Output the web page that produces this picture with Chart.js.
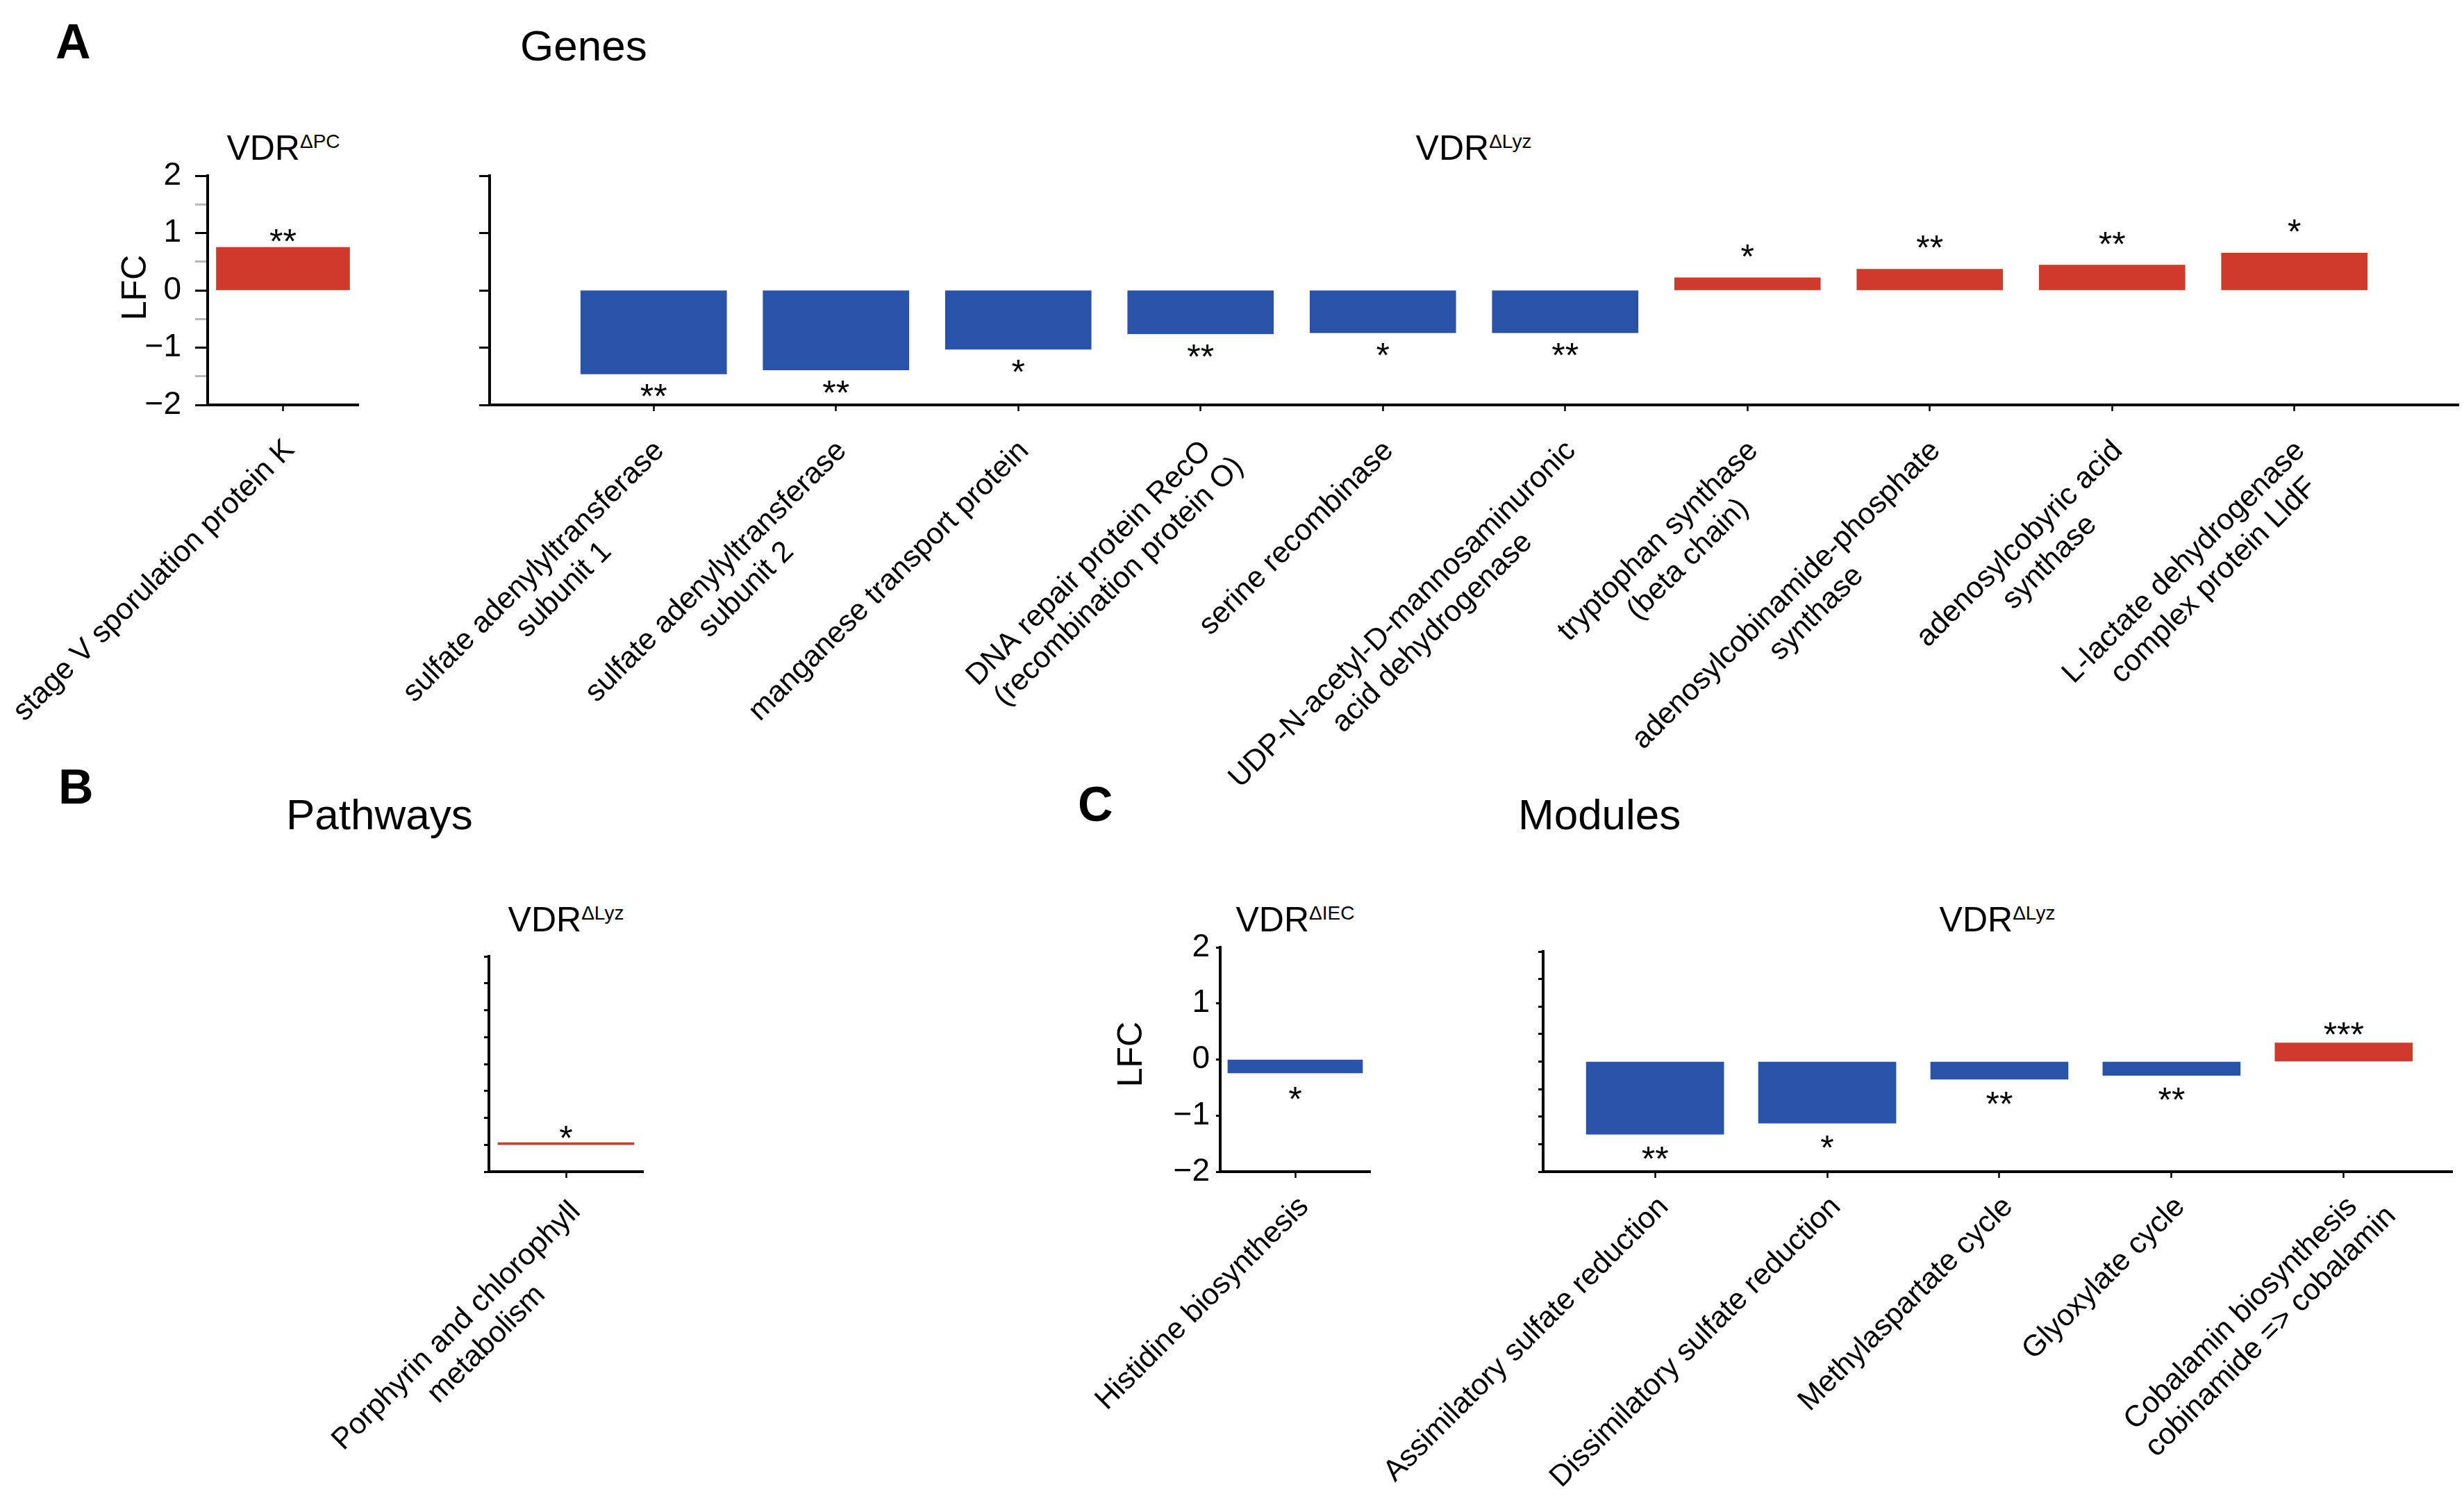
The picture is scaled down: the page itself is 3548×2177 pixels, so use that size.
<!DOCTYPE html>
<html>
<head>
<meta charset="utf-8">
<script src="https://cdn.jsdelivr.net/npm/chart.js@4/dist/chart.umd.min.js"></script>
<style>
  body { margin: 0; width: 3548px; height: 2177px; background: #fff; position: relative; overflow: hidden;
         font-family: "Liberation Sans", Arial, sans-serif; color: #000; }
  canvas { position: absolute; }
  .txt { position: absolute; line-height: 1; white-space: nowrap; }
  .letter { font-size: 70px; font-weight: bold; }
  .head { font-size: 62px; }
  .vdr { font-size: 50px; text-align: center; width: 400px; }
  .vdr sup { font-size: 28px; vertical-align: top; line-height: 1; position: relative; top: 2px; }
  .lfc { font-size: 50px; width: 200px; height: 50px; text-align: center; transform: rotate(-90deg); }
</style>
</head>
<body>
<div class="txt letter" style="left:80px;top:25px">A</div>
<div class="txt head" style="left:749px;top:35px">Genes</div>
<div class="txt letter" style="left:84px;top:1098px">B</div>
<div class="txt head" style="left:412px;top:1142px">Pathways</div>
<div class="txt letter" style="left:1552px;top:1123px">C</div>
<div class="txt head" style="left:2186px;top:1142px">Modules</div>

<div class="txt vdr" style="left:208px;top:188px">VDR<sup>ΔPC</sup></div>
<div class="txt vdr" style="left:1922px;top:188px">VDR<sup>ΔLyz</sup></div>
<div class="txt vdr" style="left:615px;top:1299px">VDR<sup>ΔLyz</sup></div>
<div class="txt vdr" style="left:1665px;top:1299px">VDR<sup>ΔIEC</sup></div>
<div class="txt vdr" style="left:2676px;top:1299px">VDR<sup>ΔLyz</sup></div>

<div class="txt lfc" style="left:93px;top:389px">LFC</div>
<div class="txt lfc" style="left:1527px;top:1493px">LFC</div>

<canvas id="cA1" width="560" height="850" style="left:0;top:200px"></canvas>
<canvas id="cA2" width="3008" height="930" style="left:540px;top:200px"></canvas>
<canvas id="cB" width="540" height="800" style="left:420px;top:1330px"></canvas>
<canvas id="cC1" width="440" height="760" style="left:1560px;top:1320px"></canvas>
<canvas id="cC2" width="1558" height="850" style="left:1990px;top:1320px"></canvas>

<script>
// Genes, VDR ΔPC
const genesPC = [['stage V sporulation protein K']];
const lfcGenesPC = [0.75];
const sigGenesPC = ['**'];

// Genes, VDR ΔLyz
const genesLyz = [
    ['sulfate adenylyltransferase', 'subunit 1'],
    ['sulfate adenylyltransferase', 'subunit 2'],
    ['manganese transport protein'],
    ['DNA repair protein RecO', '(recombination protein O)'],
    ['serine recombinase'],
    ['UDP-N-acetyl-D-mannosaminuronic', 'acid dehydrogenase'],
    ['tryptophan synthase', '(beta chain)'],
    ['adenosylcobinamide-phosphate', 'synthase'],
    ['adenosylcobyric acid', 'synthase'],
    ['L-lactate dehydrogenase', 'complex protein LldF']
];
const lfcGenesLyz = [-1.46, -1.39, -1.03, -0.76, -0.74, -0.74, 0.22, 0.37, 0.44, 0.65];
const sigGenesLyz = ['**', '**', '*', '**', '*', '**', '*', '**', '**', '*'];

// Pathways, VDR ΔLyz
const pathwaysLyz = [['Porphyrin and chlorophyll', 'metabolism']];
const lfcPathwaysLyz = [0.008];
const sigPathwaysLyz = ['*'];

// Modules, VDR ΔIEC
const modulesIEC = [['Histidine biosynthesis']];
const lfcModulesIEC = [-0.24];
const sigModulesIEC = ['*'];

// Modules, VDR ΔLyz
const modulesLyz = [
    ['Assimilatory sulfate reduction'],
    ['Dissimilatory sulfate reduction'],
    ['Methylaspartate cycle'],
    ['Glyoxylate cycle'],
    ['Cobalamin biosynthesis', 'cobinamide => cobalamin']
];
const lfcModulesLyz = [-1.32, -1.12, -0.32, -0.25, 0.34];
const sigModulesLyz = ['**', '*', '**', '**', '***'];

// LFC axis
const lfcMin = -2;
const lfcMax = 2;

const BLUE = '#2853a8';
const RED = '#cf3a2d';
const FONT = '"Liberation Sans", Arial, sans-serif';

// rotated category labels: first line ends under the tick, next lines centred on it
const labelPlugin = (labels, drop, back) => ({
    id: 'catLabels',
    afterDraw(chart) {
        const ctx = chart.ctx;
        const xs = chart.scales.x;
        const bottom = chart.chartArea.bottom;
        const lineH = 49;
        ctx.save();
        ctx.font = '43px ' + FONT;
        ctx.fillStyle = '#000';
        ctx.textAlign = 'center';
        ctx.textBaseline = 'middle';
        labels.forEach((lines, i) => {
            const w0 = ctx.measureText(lines[0]).width;
            ctx.save();
            ctx.translate(xs.getPixelForValue(i), bottom);
            ctx.rotate(-Math.PI / 4);
            lines.forEach((s, k) => ctx.fillText(s, -back - w0 / 2 + k * 12, drop + k * lineH));
            ctx.restore();
        });
        ctx.restore();
    }
});

// significance stars at bar ends
const starPlugin = (marks, gapUp, gapDown) => ({
    id: 'stars',
    afterDatasetsDraw(chart) {
        const ctx = chart.ctx;
        const meta = chart.getDatasetMeta(0);
        const data = chart.data.datasets[0].data;
        ctx.save();
        ctx.font = '50px ' + FONT;
        ctx.fillStyle = '#000';
        ctx.textAlign = 'center';
        ctx.textBaseline = 'alphabetic';
        meta.data.forEach((bar, i) => {
            const m = ctx.measureText(marks[i]);
            const y = data[i].y < 0
                ? bar.y + gapDown + m.actualBoundingBoxAscent
                : bar.y - gapUp - m.actualBoundingBoxDescent;
            ctx.fillText(marks[i], bar.x, y);
        });
        ctx.restore();
    }
});

const makeChart = (id, c) => new Chart(document.getElementById(id), {
    type: 'bar',
    data: {
        datasets: [{
            data: c.values.map((v, i) => ({ x: i, y: v })),
            backgroundColor: c.values.map(v => v < 0 ? BLUE : RED),
            borderWidth: 0,
            barThickness: c.barW
        }]
    },
    options: {
        responsive: false,
        animation: false,
        devicePixelRatio: 1,
        layout: { padding: c.pad },
        plugins: { legend: { display: false }, tooltip: { enabled: false } },
        scales: {
            x: {
                type: 'linear', min: c.xMin, max: c.xMax, offset: false,
                afterBuildTicks: s => { s.ticks = c.labels.map((_, i) => ({ value: i })); },
                afterFit: s => { s.height = 20; },
                ticks: { display: false, autoSkip: false },
                grid: { offset: false, drawOnChartArea: false, drawTicks: true, tickLength: 9, tickWidth: 2.5, tickColor: '#000' },
                border: { display: true, color: '#000', width: 4 }
            },
            y: {
                type: 'linear', min: c.yMin, max: c.yMax,
                afterFit: s => { s.width = c.yW; },
                ticks: {
                    display: c.yLabels, autoSkip: false, stepSize: c.yStep, padding: c.tickPad || 10,
                    color: '#000', font: { family: FONT, size: 46 },
                    callback: v => Number.isInteger(v) ? String(v).replace('-', '\u2212') : ''
                },
                grid: {
                    drawOnChartArea: false, drawTicks: true, tickLength: c.tickLen, tickWidth: 3,
                    tickColor: ctx => (c.grayMinor && !Number.isInteger(ctx.tick.value)) ? '#b8b8b8' : '#000'
                },
                border: { display: true, color: '#000', width: 4 }
            }
        }
    },
    plugins: [labelPlugin(c.labels, c.drop, c.back), starPlugin(c.marks, c.gapUp, c.gapDown)]
});

makeChart('cA1', {
    labels: genesPC, values: lfcGenesPC, marks: sigGenesPC,
    xMin: -0.5, xMax: 0.5, yMin: lfcMin, yMax: lfcMax, yStep: 0.5,
    yLabels: true, grayMinor: true, yW: 90, tickLen: 18, tickPad: 20,
    pad: { left: 209, top: 53, right: 44, bottom: 447 }, barW: 192, gapUp: 8, gapDown: 15, drop: 48, back: 34
});

makeChart('cA2', {
    labels: genesLyz, values: lfcGenesLyz, marks: sigGenesLyz,
    xMin: -0.9, xMax: 9.9, yMin: lfcMin, yMax: lfcMax, yStep: 1,
    yLabels: false, yW: 30, tickLen: 15,
    pad: { left: 135, top: 53, right: 8, bottom: 527 }, barW: 210, gapUp: 30, gapDown: 15, drop: 48, back: 36
});

makeChart('cB', {
    labels: pathwaysLyz, values: lfcPathwaysLyz, marks: sigPathwaysLyz,
    xMin: -0.5, xMax: 0.5, yMin: -0.1, yMax: 0.7, yStep: 0.1,
    yLabels: false, yW: 20, tickLen: 7,
    pad: { left: 264, top: 47, right: 34, bottom: 423 }, barW: 196, gapUp: 6, gapDown: 15, drop: 46, back: 26
});

makeChart('cC1', {
    labels: modulesIEC, values: lfcModulesIEC, marks: sigModulesIEC,
    xMin: -0.5, xMax: 0.5, yMin: lfcMin, yMax: lfcMax, yStep: 1,
    yLabels: true, yW: 90, tickLen: 6, tickPad: 9,
    pad: { left: 107, top: 44, right: 27, bottom: 373 }, barW: 194, gapUp: 12, gapDown: 20, drop: 40, back: 22
});

makeChart('cC2', {
    labels: modulesLyz, values: lfcModulesLyz, marks: sigModulesLyz,
    xMin: -0.65, xMax: 4.63, yMin: lfcMin, yMax: lfcMax, yStep: 0.5,
    yLabels: false, yW: 20, tickLen: 7,
    pad: { left: 212, top: 50, right: 17, bottom: 463 }, barW: 198, gapUp: 12, gapDown: 18, drop: 40, back: 22
});
</script>
</body>
</html>
